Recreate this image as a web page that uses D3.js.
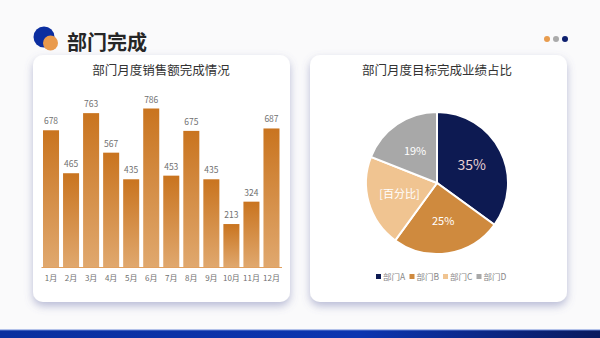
<!DOCTYPE html>
<html>
<head>
<meta charset="utf-8">
<script src="https://cdn.jsdelivr.net/npm/d3@7"></script>
<style>
    html, body { margin: 0; padding: 0; background: #fafafb; }
    svg { display: block; font-family: "Noto Sans CJK SC", "Noto Sans", sans-serif; }
</style>
</head>
<body>
<div id="chart"></div>
<script>
// data
const months = ['1月', '2月', '3月', '4月', '5月', '6月', '7月', '8月', '9月', '10月', '11月', '12月'];
const sales = [678, 465, 763, 567, 435, 786, 453, 675, 435, 213, 324, 687];
const depts = ['部门A', '部门B', '部门C', '部门D'];
const shares = [35, 25, 21, 19];
const shareLabels = ['35%', '25%', '[百分比]', '19%'];
const deptColors = ['#0d1a52', '#cf8a3e', '#f0c491', '#a8a8a8'];

let width = 600,
    height = 338;

let svg = d3.select('#chart').append('svg')
    .attr('width', width)
    .attr('height', height);

let defs = svg.append('defs');

let shadow = defs.append('filter')
    .attr('id', 'shadow')
    .attr('x', '-10%').attr('y', '-10%')
    .attr('width', '120%').attr('height', '125%');
shadow.append('feDropShadow')
    .attr('dx', 0).attr('dy', 4)
    .attr('stdDeviation', 4)
    .attr('flood-color', '#6870a8')
    .attr('flood-opacity', 0.45);

let barGrad = defs.append('linearGradient')
    .attr('id', 'barGrad')
    .attr('x1', 0).attr('y1', 0).attr('x2', 0).attr('y2', 1);
barGrad.append('stop').attr('offset', '0%').attr('stop-color', '#c9741f');
barGrad.append('stop').attr('offset', '100%').attr('stop-color', '#e0a86e');

let footGrad = defs.append('linearGradient')
    .attr('id', 'footGrad')
    .attr('x1', 0).attr('y1', 0).attr('x2', 1).attr('y2', 0);
footGrad.append('stop').attr('offset', '0%').attr('stop-color', '#0a2f9e');
footGrad.append('stop').attr('offset', '60%').attr('stop-color', '#0c35b0');
footGrad.append('stop').attr('offset', '100%').attr('stop-color', '#0a1a5e');

// background
svg.append('rect')
    .attr('width', width).attr('height', height)
    .attr('fill', '#fafafb');

// header
svg.append('circle').attr('cx', 44).attr('cy', 37).attr('r', 10.5).attr('fill', '#0b2ea0');
svg.append('circle').attr('cx', 50.5).attr('cy', 43).attr('r', 7.5).attr('fill', '#e99a4c');
svg.append('text')
    .attr('x', 67).attr('y', 50)
    .attr('font-size', 20).attr('font-weight', 'bold')
    .attr('fill', '#262626')
    .text('部门完成');

[['#e89c4e', 547], ['#aaaaaa', 556], ['#0d1f6e', 565]].forEach(([c, x]) => {
    svg.append('circle').attr('cx', x).attr('cy', 39).attr('r', 3).attr('fill', c);
});

// footer bar
svg.append('rect')
    .attr('x', 0).attr('y', 330)
    .attr('width', width).attr('height', 8)
    .attr('fill', 'url(#footGrad)');
svg.append('rect')
    .attr('x', 0).attr('y', 329.5)
    .attr('width', width).attr('height', 1)
    .attr('fill', '#6b87d8');

// cards
[[33, 55], [310, 55]].forEach(([x, y]) => {
    svg.append('rect')
        .attr('x', x).attr('y', y)
        .attr('width', 257).attr('height', 247)
        .attr('rx', 10)
        .attr('fill', '#ffffff')
        .attr('filter', 'url(#shadow)');
});

// ---- bar chart ----
let bar = svg.append('g');

bar.append('text')
    .attr('x', 161).attr('y', 75)
    .attr('text-anchor', 'middle')
    .attr('font-size', 12.5)
    .attr('fill', '#333')
    .text('部门月度销售额完成情况');

let scaleX = d3.scaleBand()
    .domain(months)
    .range([41, 281.5])
    .paddingInner(0.2)
    .paddingOuter(0.1);

let scaleY = d3.scaleLinear()
    .domain([0, 786])
    .range([267, 108.5]);

bar.selectAll('rect.bar')
    .data(sales)
    .enter()
    .append('rect')
    .attr('class', 'bar')
    .attr('x', (d, i) => scaleX(months[i]))
    .attr('y', (d) => scaleY(d))
    .attr('width', scaleX.bandwidth())
    .attr('height', (d) => scaleY(0) - scaleY(d))
    .attr('fill', 'url(#barGrad)');

bar.selectAll('text.val')
    .data(sales)
    .enter()
    .append('text')
    .attr('class', 'val')
    .attr('x', (d, i) => scaleX(months[i]) + scaleX.bandwidth() / 2)
    .attr('y', (d) => scaleY(d) - 6)
    .attr('text-anchor', 'middle')
    .attr('font-size', 8.5)
    .attr('fill', '#707070')
    .text((d) => d);

let xAxis = d3.axisBottom(scaleX).tickSize(0).tickPadding(8);
let axisG = bar.append('g')
    .attr('transform', `translate(0, ${scaleY(0)})`)
    .call(xAxis);
axisG.select('.domain').attr('stroke', '#e0a060').attr('stroke-width', 1);
axisG.selectAll('text')
    .attr('font-size', 8)
    .attr('fill', '#707070')
    .attr('font-family', '"Noto Sans CJK SC", sans-serif');

// ---- pie chart ----
let pieG = svg.append('g');

pieG.append('text')
    .attr('x', 437).attr('y', 75)
    .attr('text-anchor', 'middle')
    .attr('font-size', 12.5)
    .attr('fill', '#333')
    .text('部门月度目标完成业绩占比');

let radius = 71;
let pie = d3.pie().sort(null).value((d) => d);
let arc = d3.arc().innerRadius(0).outerRadius(radius);
let labelArc = d3.arc().innerRadius(radius * 0.55).outerRadius(radius * 0.55);

let slices = pieG.append('g')
    .attr('transform', 'translate(437, 183)');

let arcs = pie(shares);

slices.selectAll('path')
    .data(arcs)
    .enter()
    .append('path')
    .attr('d', arc)
    .attr('fill', (d, i) => deptColors[i])
    .attr('stroke', '#fff')
    .attr('stroke-width', 2);

slices.selectAll('text')
    .data(arcs)
    .enter()
    .append('text')
    .attr('transform', (d) => `translate(${labelArc.centroid(d)})`)
    .attr('text-anchor', 'middle')
    .attr('dy', '0.35em')
    .attr('font-size', (d, i) => i === 0 ? 14 : 11)
    .attr('fill', (d, i) => i === 0 ? '#ead3d3' : '#fff')
    .text((d, i) => shareLabels[i]);

// legend
let legend = pieG.append('g')
    .selectAll('g')
    .data(depts)
    .enter()
    .append('g')
    .attr('transform', (d, i) => `translate(${376 + i * 33.5}, 279)`);

legend.append('rect')
    .attr('x', 0).attr('y', -5)
    .attr('width', 5).attr('height', 5)
    .attr('fill', (d, i) => deptColors[i]);

legend.append('text')
    .attr('x', 7).attr('y', 0.5)
    .attr('font-size', 8.5)
    .attr('fill', '#888')
    .text((d) => d);
</script>
</body>
</html>
